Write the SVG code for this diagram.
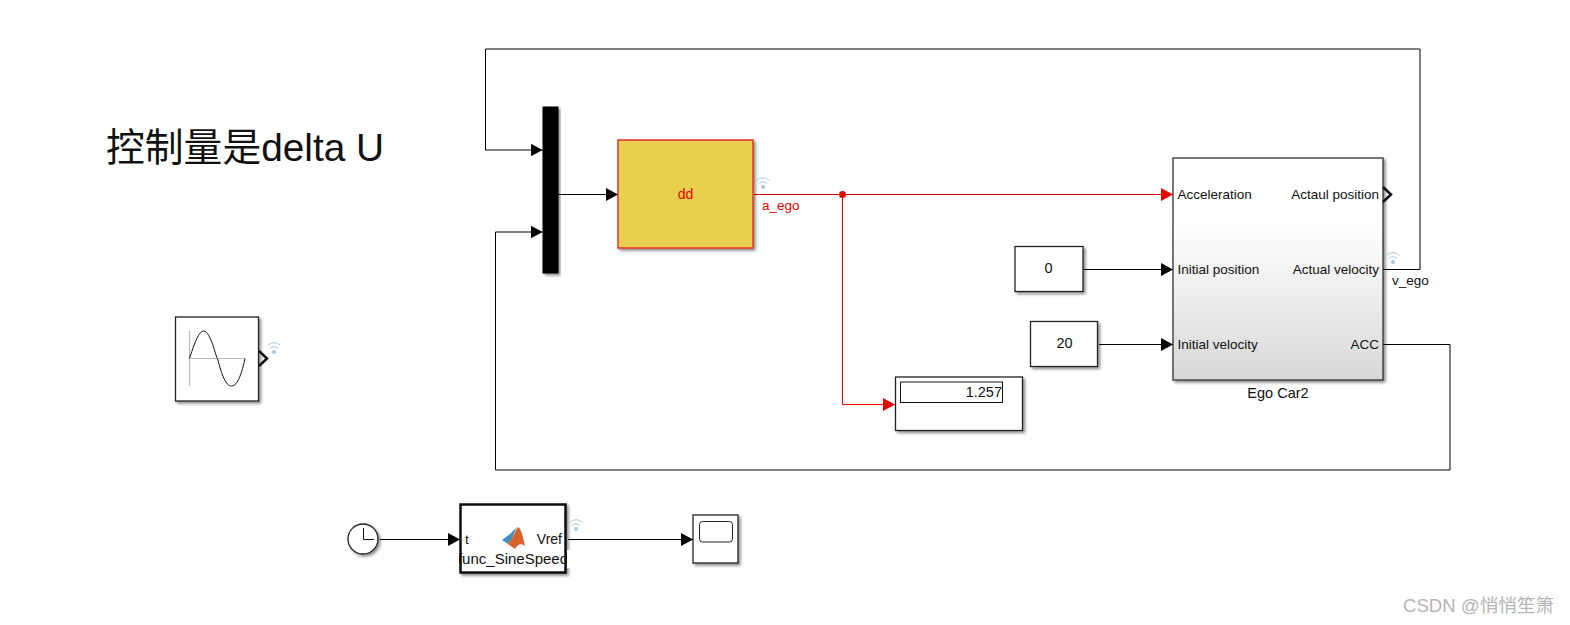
<svg xmlns="http://www.w3.org/2000/svg" width="1570" height="625" viewBox="0 0 1570 625">
<style>
text{font-family:"Liberation Sans",Arial,"Noto Sans CJK SC",sans-serif;font-size:13.500px;fill:#111}
.b{fill:#fff;stroke:#222;stroke-width:1.300;filter:url(#sh)}
.w{fill:none;stroke:#000;stroke-width:1}
.r{fill:none;stroke:#e60000;stroke-width:1}
.wifi{fill:none;stroke:#a9c6e2;stroke-width:1}
.wd{fill:#a9c6e2}
</style>
<defs>
<filter id="sh" x="-10%" y="-10%" width="125%" height="125%"><feDropShadow dx="2" dy="2" stdDeviation="1.500" flood-color="#000" flood-opacity=".45"/></filter>
<linearGradient id="g" x1="0" y1="0" x2="0" y2="1"><stop offset=".3" stop-color="#fff"/><stop offset="1" stop-color="#d8d8d8"/></linearGradient>
<marker id="ab" markerUnits="userSpaceOnUse" markerWidth="13" markerHeight="14" refX="12" refY="7" orient="auto"><path d="M0 0.500L12 7L0 13.500Z" fill="#000"/></marker>
<marker id="ar" markerUnits="userSpaceOnUse" markerWidth="13" markerHeight="14" refX="12" refY="7" orient="auto"><path d="M0 0.500L12 7L0 13.500Z" fill="#e60000"/></marker>
<g id="wf"><path class="wifi" d="M-6.500 -4.500A9 9 0 0 1 6.500 -4.500M-4 -1.500A5.500 5.500 0 0 1 4 -1.500"/><circle class="wd" cx="0" cy="2" r="2"/></g>
</defs>
<rect width="1570" height="625" fill="#fff"/>
<text x="106" y="161" style="font-size:38.800px">控制量是delta U</text>

<g id="connectors">
<path class="w" d="M1383 269.500H1420V49H485.500V150H542.500" marker-end="url(#ab)"/>
<path class="w" d="M1383 344.500H1450V470H495.500V232H542.500" marker-end="url(#ab)"/>
<path class="w" d="M558 194.500H618" marker-end="url(#ab)"/>
<path class="r" d="M754 194.500H1173" marker-end="url(#ar)"/>
<path class="r" d="M842.500 194.500V404.500H895" marker-end="url(#ar)"/>
<circle cx="842.500" cy="194.500" r="3.500" fill="#e60000"/>
<path class="w" d="M1084 269.500H1173" marker-end="url(#ab)"/>
<path class="w" d="M1099 344.500H1173" marker-end="url(#ab)"/>
<path class="w" d="M380 539.500H460" marker-end="url(#ab)"/>
<path class="w" d="M568 539.500H693" marker-end="url(#ab)"/>
</g>

<g id="mux"><rect x="542.500" y="106.500" width="16" height="167" fill="#000" filter="url(#sh)"/></g>

<g id="dd"><rect x="618" y="140" width="135" height="108" fill="#e8d050" stroke="#e8302a" stroke-width="1.500" filter="url(#sh)"/>
<text x="685.500" y="199" text-anchor="middle" style="font-size:14px;fill:#e60000">dd</text>
<use href="#wf" x="763" y="185"/>
<text x="762" y="210" style="fill:#e60000">a_ego</text></g>

<g id="egocar"><rect x="1173" y="158" width="210" height="222" fill="url(#g)" stroke="#333" stroke-width="1.300" filter="url(#sh)"/>
<text x="1177.500" y="199">Acceleration</text>
<text x="1177.500" y="274">Initial position</text>
<text x="1177.500" y="349">Initial velocity</text>
<text x="1379" y="199" text-anchor="end">Actaul position</text>
<text x="1379" y="274" text-anchor="end">Actual velocity</text>
<text x="1379" y="349" text-anchor="end">ACC</text>
<text x="1278" y="398" text-anchor="middle" style="font-size:14.500px">Ego Car2</text>
<path d="M1383 187L1391 194.500L1383 202" fill="none" stroke="#111" stroke-width="2.500"/>
<use href="#wf" x="1393" y="260"/>
<text x="1392" y="285">v_ego</text></g>

<g id="const0"><rect class="b" x="1015" y="246.500" width="68" height="45"/><text x="1048.500" y="273" text-anchor="middle" style="font-size:14.500px">0</text></g>
<g id="const20"><rect class="b" x="1030.500" y="321.500" width="67" height="45"/><text x="1064.500" y="348" text-anchor="middle" style="font-size:14.500px">20</text></g>

<g id="display"><rect class="b" x="895.500" y="377" width="127" height="53.500"/><rect x="900.500" y="382" width="102" height="20.500" fill="#fff" stroke="#111" stroke-width="1"/><text x="1002" y="397" text-anchor="end" style="font-size:14.500px">1.257</text></g>

<g id="sine"><rect class="b" x="175.500" y="317" width="83" height="84"/>
<path d="M189.500 331V386M189.500 358.500H245" fill="none" stroke="#bbb" stroke-width="1.200"/>
<path d="M189.500 358.500C196 338 200 331 203.500 331C211 331 216 358.500 217.500 358.500C222 376 226 386 231.500 386C238 386 242 372 245 358.500" fill="none" stroke="#111" stroke-width="1"/>
<path d="M259 351L267 358.500L259 366" fill="none" stroke="#111" stroke-width="2.500"/>
<use href="#wf" x="274" y="350"/></g>

<g id="clock"><circle cx="363" cy="539" r="15" fill="#fff" stroke="#222" stroke-width="1.300" filter="url(#sh)"/><path d="M363.500 528V539.500H374" fill="none" stroke="#111" stroke-width="1"/></g>

<g id="func"><rect x="460.500" y="504.500" width="105" height="68" fill="#fff" stroke="#111" stroke-width="2.500" filter="url(#sh)"/>
<text x="465" y="544">t</text><text x="562" y="544" text-anchor="end" style="font-size:14px">Vref</text>
<text x="513" y="564" text-anchor="middle" style="font-size:15px">func_SineSpeed</text>
<rect x="455" y="550" width="4" height="18" fill="#fff"/><rect x="567" y="550" width="5" height="18" fill="#fff"/>
<path d="M502 540L510 534L517 527L512 538L508 544Z" fill="#3f8fc0"/>
<path d="M508 544L513 536L518 527C521 528 523 537 525 546C521 543 518 544 515 549Z" fill="#d9622b"/>
<use href="#wf" x="576" y="527"/></g>

<g id="scope"><rect class="b" x="693" y="515" width="45" height="48"/><rect x="699.500" y="521.500" width="33" height="20.500" rx="3" fill="#fff" stroke="#222" stroke-width="1"/></g>

<text x="1403" y="612" style="font-size:18.600px;fill:#b5b5b5">CSDN @悄悄笙箫</text>
</svg>
